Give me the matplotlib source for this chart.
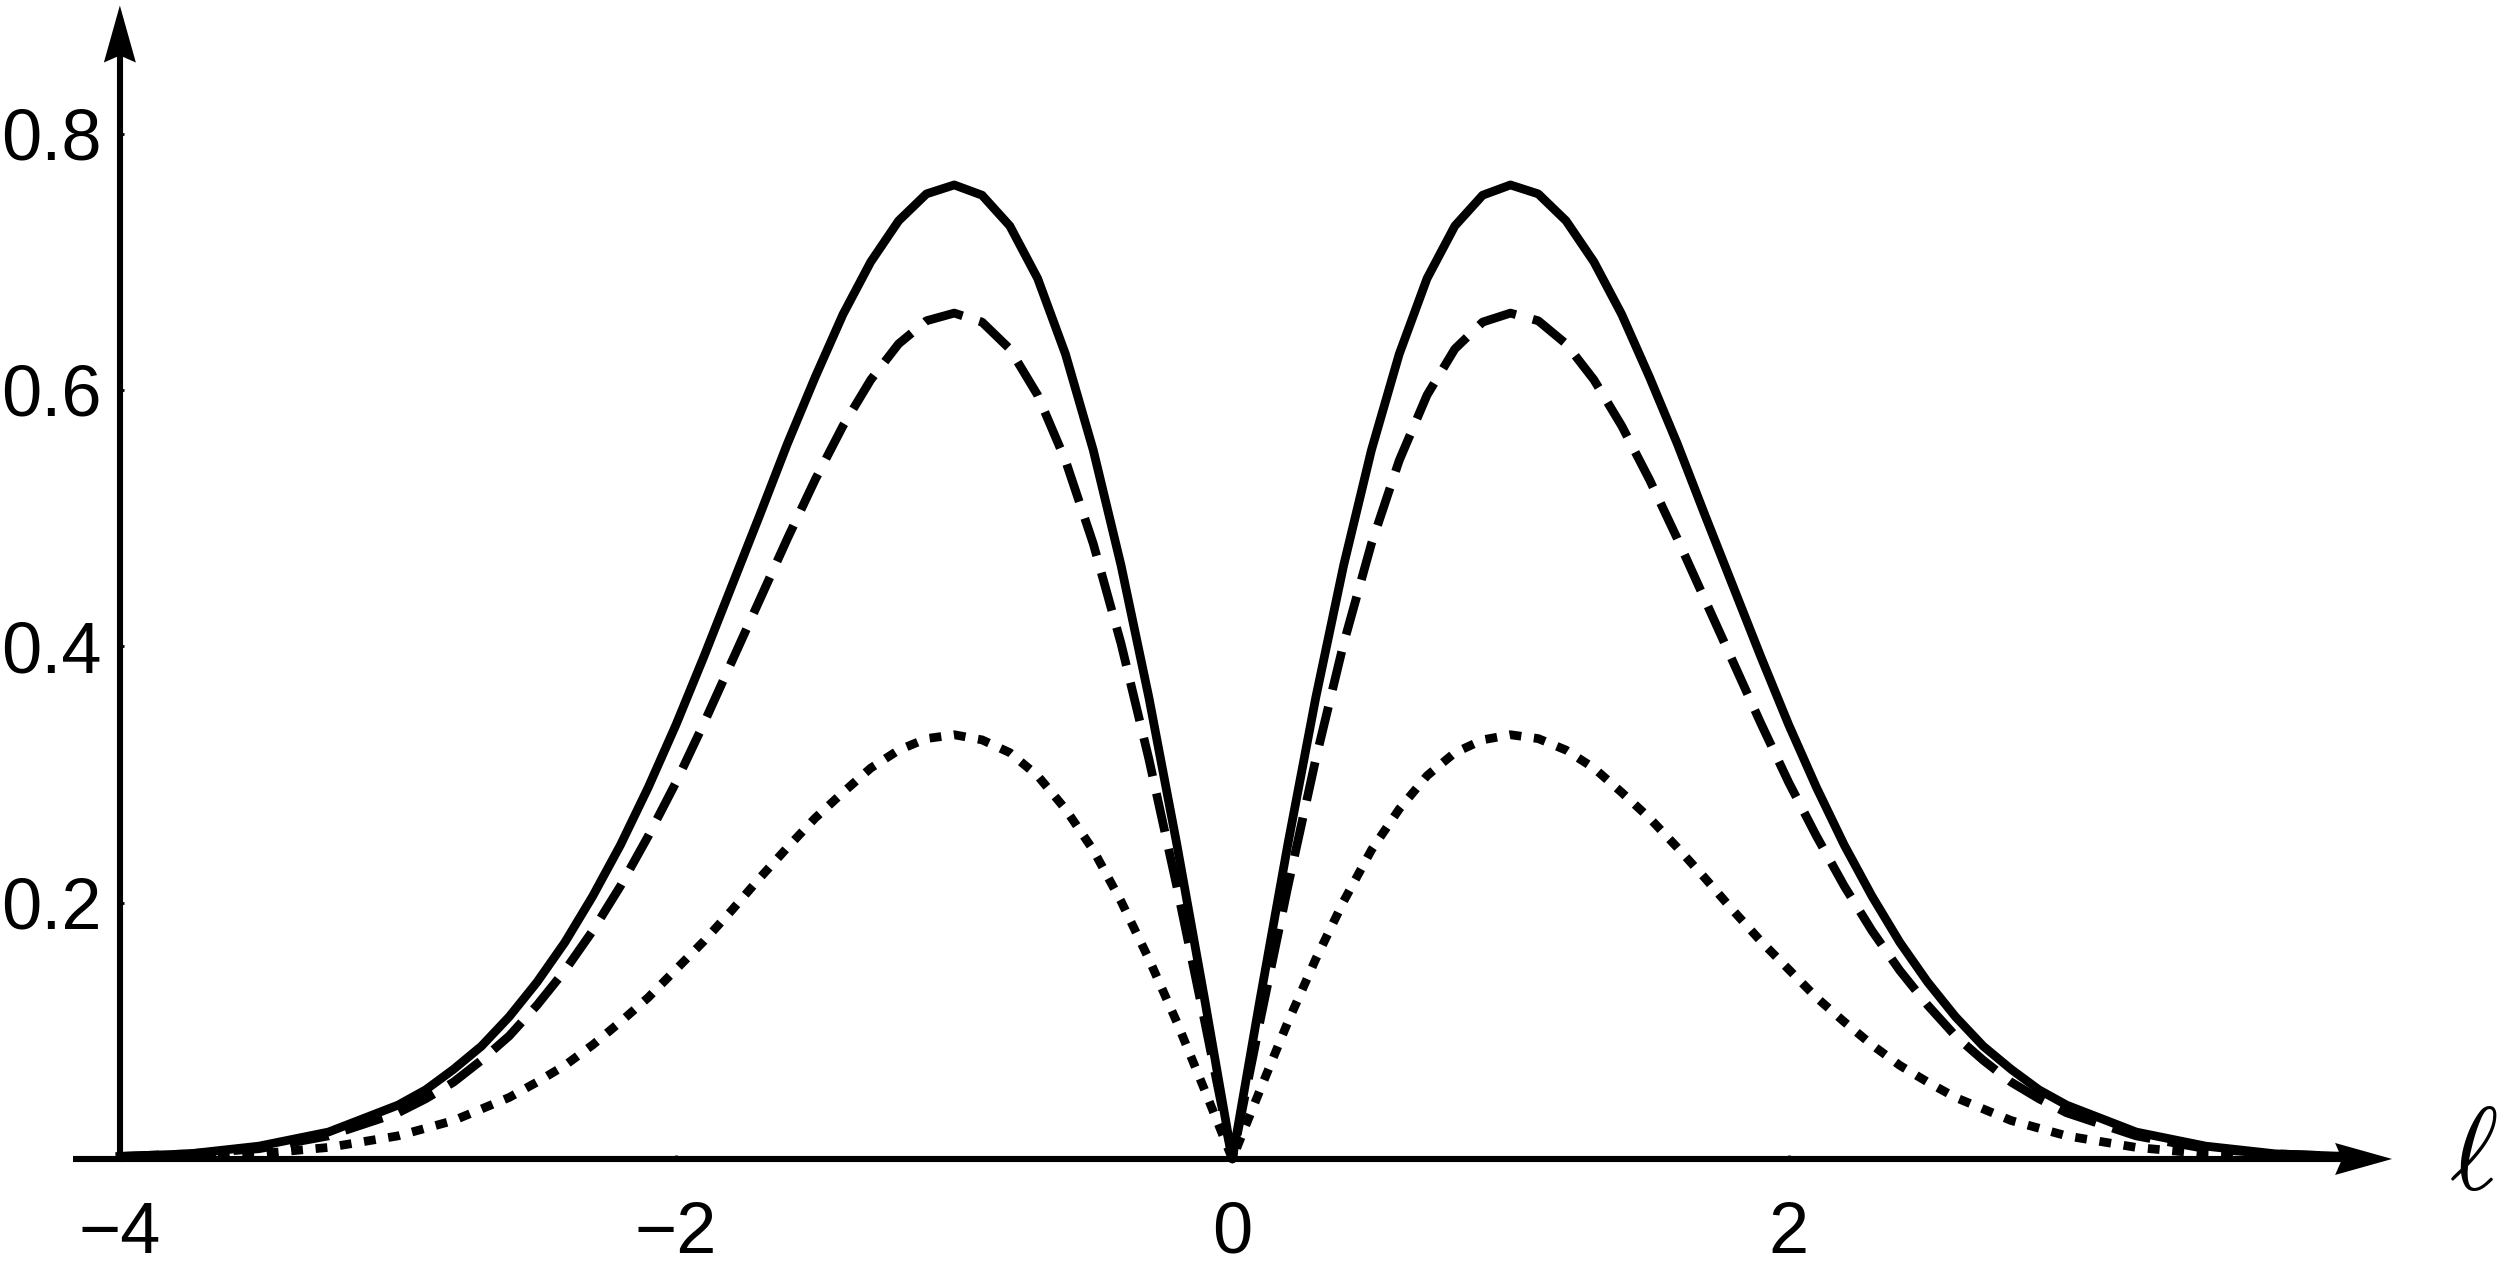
import matplotlib
matplotlib.use("Agg")
import matplotlib.pyplot as plt
from matplotlib.patches import Polygon
from matplotlib.transforms import IdentityTransform

# ── Data (symmetric double hump, cusp at 0) ──
ell = [-4.0, -3.75, -3.5, -3.25, -3.0, -2.9, -2.8, -2.7, -2.6, -2.5, -2.4,
       -2.3, -2.2, -2.1, -2.0, -1.9, -1.8, -1.7, -1.6, -1.5, -1.4, -1.3,
       -1.2, -1.1, -1.0, -0.9, -0.8, -0.7, -0.6, -0.5, -0.4, -0.3, -0.2,
       -0.1, 0.0,
       0.1, 0.2, 0.3, 0.4, 0.5, 0.6, 0.7, 0.8, 0.9, 1.0,
       1.1, 1.2, 1.3, 1.4, 1.5, 1.6, 1.7, 1.8, 1.9, 2.0,
       2.1, 2.2, 2.3, 2.4, 2.5, 2.6, 2.7, 2.8, 2.9, 3.0, 3.25, 3.5, 3.75, 4.0]

solid = [0.002, 0.004, 0.010, 0.021, 0.042, 0.054, 0.070, 0.088, 0.111, 0.138,
         0.169, 0.205, 0.245, 0.290, 0.339, 0.392, 0.447, 0.502, 0.558, 0.610,
         0.659, 0.700, 0.732, 0.753, 0.760, 0.752, 0.728, 0.687, 0.628, 0.553,
         0.463, 0.360, 0.246, 0.125, 0.0,
         0.125, 0.246, 0.360, 0.463, 0.553, 0.628, 0.687, 0.728, 0.752, 0.760,
         0.753, 0.732, 0.700, 0.659, 0.610, 0.558, 0.502, 0.447, 0.392, 0.339,
         0.290, 0.245, 0.205, 0.169, 0.138, 0.111, 0.088, 0.070, 0.054, 0.042,
         0.021, 0.010, 0.004, 0.002]

dashed = [0.002, 0.004, 0.008, 0.018, 0.036, 0.047, 0.060, 0.077, 0.096, 0.120,
          0.147, 0.178, 0.213, 0.252, 0.294, 0.340, 0.388, 0.436, 0.484, 0.530,
          0.572, 0.608, 0.636, 0.654, 0.660, 0.653, 0.632, 0.596, 0.545, 0.480,
          0.402, 0.312, 0.213, 0.108, 0.0,
          0.108, 0.213, 0.312, 0.402, 0.480, 0.545, 0.596, 0.632, 0.653, 0.660,
          0.654, 0.636, 0.608, 0.572, 0.530, 0.484, 0.436, 0.388, 0.340, 0.294,
          0.252, 0.213, 0.178, 0.147, 0.120, 0.096, 0.077, 0.060, 0.047, 0.036,
          0.018, 0.008, 0.004, 0.002]

dotted = [0.001, 0.002, 0.004, 0.009, 0.018, 0.024, 0.030, 0.039, 0.048, 0.060,
          0.073, 0.089, 0.107, 0.126, 0.148, 0.170, 0.194, 0.219, 0.243, 0.266,
          0.286, 0.305, 0.319, 0.328, 0.331, 0.327, 0.317, 0.299, 0.273, 0.241,
          0.201, 0.156, 0.107, 0.054, 0.0,
          0.054, 0.107, 0.156, 0.201, 0.241, 0.273, 0.299, 0.317, 0.327, 0.331,
          0.328, 0.319, 0.305, 0.286, 0.266, 0.243, 0.219, 0.194, 0.170, 0.148,
          0.126, 0.107, 0.089, 0.073, 0.060, 0.048, 0.039, 0.030, 0.024, 0.018,
          0.009, 0.004, 0.002, 0.001]

x_ticks = [-4, -2, 0, 2]
x_tick_labels = ["\u22124", "\u22122", "0", "2"]
y_ticks = [0.2, 0.4, 0.6, 0.8]
y_tick_labels = ["0.2", "0.4", "0.6", "0.8"]

# ── Style ──
plt.rcParams.update({
    "font.family": ["Liberation Sans", "DejaVu Sans"],
    "mathtext.fontset": "cm",
})

fig = plt.figure(figsize=(25, 12.67), dpi=100)
ax = fig.add_axes([0, 0, 1, 1])
ax.set_xlim(-4.431, 4.558)
ax.set_ylim(-0.0843, 0.9043)
ax.patch.set_alpha(0)

LW = 6.3
ax.plot(ell, solid, color="black", lw=LW, solid_joinstyle="round", zorder=4)
ax.plot(ell, dashed, color="black", lw=LW, dashes=(4.5, 2.0), zorder=4)
ax.plot(ell, dotted, color="black", lw=LW, dashes=(1.35, 1.45), zorder=4)

# ── Axes drawn as lines with notched arrowheads (Mathematica style) ──
AX_LW = 4.4
HEAD_LEN, HEAD_HALF, NOTCH = 57, 16, 7   # pixels


def axis_arrow(start, tip, horizontal):
    fig.canvas.draw()
    (sx, sy), (tx, ty) = ax.transData.transform([start, tip])
    if horizontal:
        pts = [(tx, ty), (tx - HEAD_LEN, ty + HEAD_HALF),
               (tx - HEAD_LEN + NOTCH, ty), (tx - HEAD_LEN, ty - HEAD_HALF)]
        line_end = (tx - HEAD_LEN + NOTCH + 2, ty)
    else:
        pts = [(tx, ty), (tx - HEAD_HALF, ty - HEAD_LEN),
               (tx, ty - HEAD_LEN + NOTCH), (tx + HEAD_HALF, ty - HEAD_LEN)]
        line_end = (tx, ty - HEAD_LEN + NOTCH + 2)
    ax.add_line(plt.Line2D([sx, line_end[0]], [sy, line_end[1]],
                           transform=IdentityTransform(), color="black",
                           lw=AX_LW, solid_capstyle="butt", zorder=3))
    ax.add_patch(Polygon(pts, closed=True, transform=IdentityTransform(),
                         facecolor="black", edgecolor="none", zorder=3))


axis_arrow((-4.17, 0.0), (4.17, 0.0), horizontal=True)
axis_arrow((-4.0, -0.002), (-4.0, 0.900), horizontal=False)

for s in ax.spines.values():
    s.set_visible(False)
ax.spines["left"].set_position(("data", -4))
ax.spines["bottom"].set_position(("data", 0))

ax.set_xticks(x_ticks)
ax.set_xticklabels(x_tick_labels)
ax.set_yticks(y_ticks)
ax.set_yticklabels(y_tick_labels)
ax.tick_params(axis="x", direction="in", length=3, width=2, pad=30,
               labelsize=52)
ax.tick_params(axis="y", direction="in", length=3, width=2, pad=13,
               labelsize=52)

ax.text(4.46, 0.0, r"$\ell$", fontsize=84, ha="center", va="center")

fig.savefig("out.png", dpi=100)
